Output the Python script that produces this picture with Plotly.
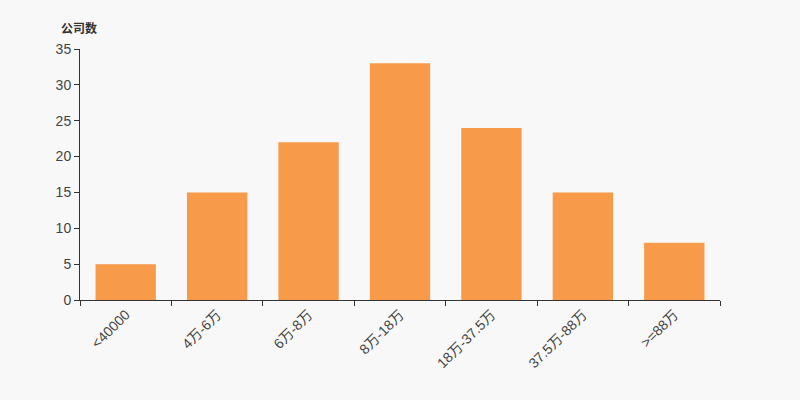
import plotly.graph_objects as go

categories = ["<40000", "4万-6万", "6万-8万", "8万-18万", "18万-37.5万", "37.5万-88万", ">=88万"]
company_counts = [5, 15, 22, 33, 24, 15, 8]
y_ticks = [0, 5, 10, 15, 20, 25, 30, 35]

font_family = "Liberation Sans, Noto Sans CJK SC, sans-serif"

fig = go.Figure(
    go.Bar(
        x=categories,
        y=company_counts,
        marker=dict(color="#f79a4a", line=dict(width=0)),
        width=0.66,
    )
)

fig.update_layout(
    width=800,
    height=400,
    margin=dict(l=80, r=80, t=49, b=100),
    paper_bgcolor="#f8f8f8",
    plot_bgcolor="#f8f8f8",
    showlegend=False,
    font=dict(family=font_family, size=12, color="#333"),
    annotations=[
        dict(
            text="<b>公司数</b>",
            xref="paper", yref="paper",
            x=-0.033, y=1.0, yshift=22,
            xanchor="left", yanchor="middle",
            showarrow=False,
            font=dict(family="Noto Sans CJK SC", size=12, color="#333"),
        )
    ],
)

fig.update_xaxes(
    type="category",
    tickangle=-45,
    tickson="boundaries",
    ticks="outside",
    ticklen=5,
    tickcolor="#333",
    showline=True,
    linecolor="#333",
    linewidth=1,
    showgrid=False,
    tickfont=dict(size=14, color="#444"),
)

fig.update_yaxes(
    range=[0, 35],
    tickvals=y_ticks,
    ticks="outside",
    ticklen=5,
    tickcolor="#333",
    showline=True,
    linecolor="#333",
    linewidth=1,
    showgrid=False,
    zeroline=False,
    tickfont=dict(size=14, color="#444"),
)

fig.write_html(
    "out.html",
    config={"displayModeBar": False},
    post_script="document.body.style.margin='0';document.body.style.background='#f8f8f8';",
)
